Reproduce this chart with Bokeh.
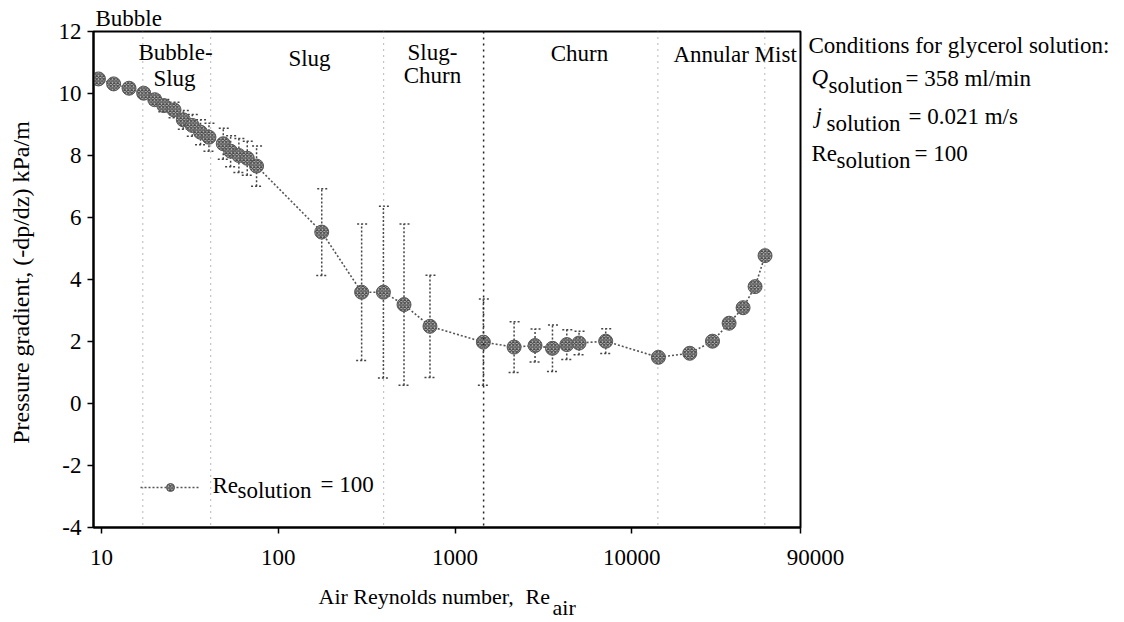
from bokeh.plotting import figure
from bokeh.layouts import row, column
from bokeh.models import (ColumnDataSource, Range1d, FixedTicker, NumeralTickFormatter,
                          Span, Label, Whisker, TeeHead, Legend, LegendItem, Title)
from bokeh.embed import file_html
from bokeh.resources import INLINE

# ---------------- data ----------------
re_air = [9.6, 11.7, 14.3, 17.3, 20.0, 22.5, 25.7, 29.0, 32.6, 36.3, 40.5, 48.8, 53.7, 59.8, 66.7, 75.3,
          176, 296, 393, 514, 721, 1445, 2157, 2834, 3556, 4285, 5027, 7115,
          14130, 21270, 28600, 35500, 42600, 49800, 56700]
dpdz = [10.47, 10.31, 10.17, 10.01, 9.80, 9.61, 9.47, 9.15, 8.97, 8.75, 8.59, 8.38, 8.14, 8.00, 7.91, 7.66,
        5.53, 3.59, 3.59, 3.19, 2.49, 1.98, 1.82, 1.87, 1.78, 1.90, 1.95, 2.01,
        1.49, 1.62, 2.01, 2.59, 3.09, 3.77, 4.77]
err = [0, 0, 0, 0.10, 0.15, 0.20, 0.25, 0.30, 0.35, 0.40, 0.45, 0.50, 0.50, 0.55, 0.55, 0.65,
       1.40, 2.20, 2.77, 2.60, 1.65, 1.39, 0.82, 0.53, 0.75, 0.48, 0.38, 0.40,
       0, 0, 0, 0, 0, 0, 0]
boundaries = [17.1, 41.4, 394, 1450, 14030, 56500]
boundary_strong = [False, False, False, True, False, False]
x_ticks = [10, 100, 1000, 10000, 90000]
y_ticks = [-4, -2, 0, 2, 4, 6, 8, 10, 12]

FONT = "Liberation Serif"
FS = "23px"
W, H = 1124, 622
MAIN_W, MAIN_H = 802, 580
OVERLAP = 22          # right text panel overlaps the main figure's right border
DY = -7               # text baseline correction

# frame spans page px 93..800 (x) and 31..527 (y)
FL, FR, FT, FB = 93, 800, 31, 527
def X(px):
    return 9 * (90000 / 9) ** ((px - FL) / (FR - FL))
def Y(py):
    return 12 - 16 * (py - FT) / (FB - FT)

p = figure(width=MAIN_W, height=MAIN_H, x_axis_type="log",
           x_range=Range1d(9, 90000), y_range=Range1d(-4, 12),
           output_backend="svg", toolbar_location=None,
           min_border_left=FL, min_border_right=MAIN_W - FR,
           min_border_top=FT, min_border_bottom=MAIN_H - FB)
p.background_fill_color = "white"
p.border_fill_color = "white"
p.outline_line_color = "black"
p.outline_line_width = 2
p.xgrid.visible = False
p.ygrid.visible = False

for ax in (p.xaxis[0], p.yaxis[0]):
    ax.axis_line_width = 2
    ax.axis_line_color = "black"
    ax.major_tick_in = 0
    ax.major_tick_out = 6
    ax.major_tick_line_width = 1.5
    ax.minor_tick_line_color = None
    ax.major_label_text_font = FONT
    ax.major_label_text_font_size = FS
    ax.major_label_text_color = "black"
p.xaxis.ticker = FixedTicker(ticks=x_ticks)
p.xaxis.formatter = NumeralTickFormatter(format="0")
# the last tick label sits past the frame edge; it is drawn in the right panel instead
p.xaxis.major_label_overrides = {x_ticks[-1]: ""}
p.xaxis.major_label_standoff = 16
p.yaxis.ticker = FixedTicker(ticks=y_ticks)
p.yaxis.formatter = NumeralTickFormatter(format="0")
p.yaxis.major_label_standoff = 6
p.yaxis.axis_label = "Pressure gradient, (-dp/dz)  kPa/m"
p.yaxis.axis_label_text_font = FONT
p.yaxis.axis_label_text_font_size = "24px"
p.yaxis.axis_label_text_font_style = "normal"
p.yaxis.axis_label_text_color = "black"
p.yaxis.axis_label_standoff = 22

p.add_layout(Title(text="Bubble", align="left", offset=2, standoff=2,
                   text_font=FONT, text_font_size=FS, text_font_style="normal",
                   text_color="black"), "above")

# regime boundaries
for b, strong in zip(boundaries, boundary_strong):
    p.add_layout(Span(location=b, dimension="height",
                      line_color="#222222" if strong else "#8a8a8a",
                      line_dash="2 4" if strong else "1 5",
                      line_width=1.5 if strong else 1.2))

# error bars
wx = [x for x, e in zip(re_air, err) if e > 0]
wu = [y + e for y, e in zip(dpdz, err) if e > 0]
wl = [y - e for y, e in zip(dpdz, err) if e > 0]
wsrc = ColumnDataSource(dict(x=wx, u=wu, l=wl))
p.add_layout(Whisker(base="x", upper="u", lower="l", source=wsrc, dimension="height",
                     line_color="#444444", line_dash="2 2", line_width=1.5,
                     upper_head=TeeHead(size=11, line_color="#444444", line_dash="2 2", line_width=1.5),
                     lower_head=TeeHead(size=11, line_color="#444444", line_dash="2 2", line_width=1.5)))

src = ColumnDataSource(dict(x=re_air, y=dpdz))
line_r = p.line("x", "y", source=src, line_color="#555555", line_dash="2 2", line_width=1.6)
sc_r = p.scatter("x", "y", source=src, marker="circle", size=14,
                 fill_color="#bdbdbd", line_color="#5a5a5a", line_width=1,
                 hatch_pattern="diagonal_cross", hatch_color="#4a4a4a", hatch_scale=3.5, hatch_weight=1.2)

legend = Legend(items=[LegendItem(label=" ", renderers=[line_r, sc_r])],
                location=(47, 30), glyph_width=60, glyph_height=20,
                padding=0, margin=0, spacing=0, label_standoff=0,
                border_line_alpha=0, background_fill_alpha=0,
                label_text_font_size="8px")
p.add_layout(legend)

def lab(fig, x, y, text, align="left", style="normal", size=FS):
    fig.add_layout(Label(x=x, y=y, text=text, text_font=FONT, text_font_size=size,
                         text_font_style=style, text_align=align, text_baseline="alphabetic",
                         text_color="black"))

# regime names (inside the frame)
lab(p, X(175), Y(59 + DY), "Bubble-", "center")
lab(p, X(174), Y(85 + DY), "Slug", "center")
lab(p, X(309), Y(65 + DY), "Slug", "center")
lab(p, X(432), Y(59 + DY), "Slug-", "center")
lab(p, X(432), Y(82 + DY), "Churn", "center")
lab(p, X(579), Y(60 + DY), "Churn", "center")
lab(p, X(673), Y(61 + DY), "Annular Mist")

# legend text
lab(p, X(212), Y(492 + DY), "Re")
lab(p, X(237), Y(497 + DY), "solution")
lab(p, X(320), Y(491 + DY), "= 100")

def text_panel(w, h, x0, y0, bl=0, br=0, transparent=False):
    f = figure(width=w, height=h, x_range=Range1d(x0 + bl, x0 + w - br), y_range=Range1d(y0 + h, y0),
               output_backend="svg", toolbar_location=None,
               x_axis_location=None, y_axis_location=None,
               min_border=0, min_border_left=bl, min_border_right=br,
               min_border_top=0, min_border_bottom=0)
    f.outline_line_color = None
    f.grid.visible = False
    if transparent:
        f.background_fill_alpha = 0
        f.border_fill_alpha = 0
    else:
        f.background_fill_color = "white"
        f.border_fill_color = "white"
    return f

# x-axis title strip (page px coordinates), frame aligned with the main frame
bf = text_panel(MAIN_W, H - MAIN_H, 0, MAIN_H, bl=FL, br=MAIN_W - FR)
lab(bf, 318, 603 + DY, "Air Reynolds number,", size="22px")
lab(bf, 525, 603 + DY, "Re", size="22px")
lab(bf, 552, 614 + DY, "air", size="22px")

# conditions panel to the right (page px coordinates), overlapping transparently
x0 = MAIN_W - OVERLAP
rf = text_panel(W - x0, H, x0, 0, transparent=True)
rf.margin = (0, 0, 0, -OVERLAP)
lab(rf, 815, 564 + DY, "90000", "center")
lab(rf, 808, 52 + DY, "Conditions for glycerol solution:")
lab(rf, 811, 84 + DY, "Q", style="italic")
lab(rf, 828, 92 + DY, "solution")
lab(rf, 905, 85 + DY, "= 358 ml/min")
lab(rf, 815, 122 + DY, "j", style="italic")
lab(rf, 826, 130 + DY, "solution")
lab(rf, 908, 123 + DY, "= 0.021 m/s")
lab(rf, 811, 160 + DY, "Re")
lab(rf, 836, 167 + DY, "solution")
lab(rf, 914, 160 + DY, "= 100")

layout = row(column(p, bf), rf)
open("out.html", "w").write(file_html(layout, INLINE))
